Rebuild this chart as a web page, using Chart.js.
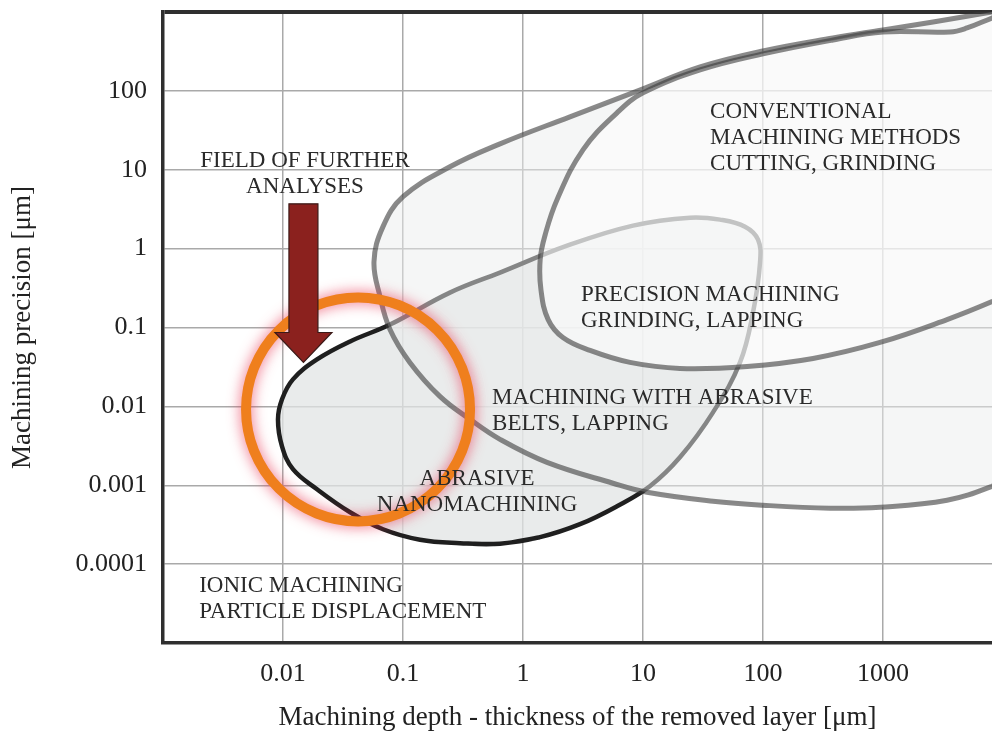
<!DOCTYPE html>
<html>
<head>
<meta charset="utf-8">
<script src="https://cdn.jsdelivr.net/npm/chart.js@4.4.0/dist/chart.umd.min.js"></script>
<style>
  html, body { margin: 0; padding: 0; background: #fff; }
</style>
</head>
<body>
<canvas id="myChart" width="992" height="731"></canvas>
<script>
const FONT = '"Liberation Serif", "Times New Roman", serif';

// log axes, one tick per decade
const xTickValues = [0.001, 0.01, 0.1, 1, 10, 100, 1000];
const xTickLabels = ['', '0.01', '0.1', '1', '10', '100', '1000'];
const yTickValues = [0.00001, 0.0001, 0.001, 0.01, 0.1, 1, 10, 100, 1000];
const yTickLabels = ['', '0.0001', '0.001', '0.01', '0.1', '1', '10', '100', ''];

// abrasive nanomachining (black outline)
const nanoDepth = [0.643, 1.386, 2.985, 6.07, 11.4, 20.3, 38.3, 64.3, 82.5, 94.4, 90.9, 70.8, 43.8, 24.6, 8.25, 2.33, 0.643, 0.246, 0.0779, 0.0362, 0.0192, 0.0121, 0.00981, 0.00908, 0.00981, 0.0121, 0.0192, 0.0362, 0.0681, 0.1386, 0.2985, 0.643];
const nanoPrec = [0.0001817, 0.0002197, 0.0003209, 0.000542, 0.000971, 0.00226, 0.00840, 0.0361, 0.155, 0.665, 1.30, 1.90, 2.33, 2.47, 1.96, 1.09, 0.497, 0.277, 0.109, 0.0665, 0.0394, 0.0220, 0.0123, 0.00684, 0.00312, 0.00160, 0.000890, 0.000455, 0.000277, 0.000204, 0.0001845, 0.0001817];

// machining with abrasive belts, lapping
const beltDepth = [20340, 43850, 29850, 8091, 2610, 1000, 383, 100, 29.9, 10, 2.46, 0.643, 0.246, 0.1, 0.0681, 0.0573, 0.0643, 0.0779, 0.114, 0.203, 0.362, 0.643, 1.585, 5.62, 10.8, 38.3, 100, 362, 944, 3415, 8091, 20340];
const beltPrec = [0.00184, 0.226, 1419, 1000, 747, 592, 469, 321, 201, 106, 46.9, 21.3, 10.9, 4.55, 1.90, 0.684, 0.247, 0.0944, 0.0361, 0.0134, 0.00684, 0.00382, 0.00195, 0.00106, 0.000815, 0.000627, 0.000558, 0.000512, 0.000527, 0.000646, 0.000971, 0.00184];

// precision / conventional machining
const convDepth = [43850, 20340, 8091, 5012, 3616, 1000, 383, 100, 29.9, 10, 6.07, 3.16, 1.92, 1.53, 1.39, 1.41, 1.62, 2.15, 3.62, 7.79, 20.3, 73.6, 261, 944, 3415, 8091, 20340, 43850];
const convPrec = [17.9, 1419, 839, 627, 558, 558, 442, 294, 184, 94.4, 52.7, 17.9, 4.17, 1.50, 0.726, 0.303, 0.126, 0.0747, 0.0512, 0.0361, 0.0303, 0.0321, 0.0405, 0.0646, 0.126, 0.213, 0.405, 17.9];

// field of further analyses (ring centre)
const ringDepth = 0.0422;
const ringPrec = 0.00916;

// arrow: centre depth, top, neck, tip
const arrowDepth = 0.0148;
const arrowPrec = [3.7, 0.0864, 0.036];

// region captions
const noteText = [
  ['FIELD OF FURTHER', 'ANALYSES'],
  ['CONVENTIONAL', 'MACHINING METHODS', 'CUTTING, GRINDING'],
  ['PRECISION MACHINING', 'GRINDING, LAPPING'],
  ['MACHINING WITH ABRASIVE', 'BELTS, LAPPING'],
  ['ABRASIVE', 'NANOMACHINING'],
  ['IONIC MACHINING', 'PARTICLE DISPLACEMENT']
];
const noteDepth = [0.01525, 36.2, 3.04, 0.552, 0.414, 0.002];
const notePrec = [13.4, 55.8, 0.273, 0.0134, 0.001245, 0.0000558];
const noteAlign = ['center', 'left', 'left', 'left', 'center', 'left'];

// closed outline: repeat one point on each side so the spline has no kink where it closes
const loop = (xs, ys) => {
  const p = xs.map((x, i) => ({x: x, y: ys[i]}));
  return [p[p.length - 2]].concat(p, [p[1]]);
};

const shape = (data, fillColor, lineColor, width) => ({
  data: data,
  showLine: true,
  fill: 'shape',
  backgroundColor: fillColor,
  borderColor: lineColor,
  borderWidth: width,
  tension: 0.4,
  pointRadius: 0
});

const notes = {
  id: 'notes',
  afterDatasetsDraw(chart) {
    const ctx = chart.ctx;
    const xs = chart.scales.x, ys = chart.scales.y;

    // orange ring with a reddish glow
    ctx.save();
    ctx.beginPath();
    ctx.arc(xs.getPixelForValue(ringDepth), ys.getPixelForValue(ringPrec), 112, 0, Math.PI * 2);
    ctx.shadowColor = 'rgba(232, 50, 80, 0.75)';
    ctx.shadowBlur = 14;
    ctx.lineWidth = 10;
    ctx.strokeStyle = '#ef7f1d';
    ctx.stroke();
    ctx.restore();

    // arrow
    const ax = xs.getPixelForValue(arrowDepth);
    const top = ys.getPixelForValue(arrowPrec[0]);
    const neck = ys.getPixelForValue(arrowPrec[1]);
    const tip = ys.getPixelForValue(arrowPrec[2]);
    ctx.save();
    ctx.beginPath();
    ctx.moveTo(ax - 14.5, top);
    ctx.lineTo(ax + 14.5, top);
    ctx.lineTo(ax + 14.5, neck);
    ctx.lineTo(ax + 28.5, neck);
    ctx.lineTo(ax, tip);
    ctx.lineTo(ax - 28.5, neck);
    ctx.lineTo(ax - 14.5, neck);
    ctx.closePath();
    ctx.fillStyle = '#8b211e';
    ctx.fill();
    ctx.lineWidth = 1.2;
    ctx.strokeStyle = '#3b1a18';
    ctx.stroke();

    // captions
    const size = 23;
    ctx.font = size + 'px ' + FONT;
    ctx.fillStyle = '#2a2a2a';
    ctx.textBaseline = 'alphabetic';
    noteText.forEach((lines, i) => {
      const px = xs.getPixelForValue(noteDepth[i]);
      const py = ys.getPixelForValue(notePrec[i]);
      ctx.textAlign = noteAlign[i];
      lines.forEach((t, j) => ctx.fillText(t, px, py + j * 26 + size * 0.33));
    });
    ctx.restore();
  }
};

const config = {
  type: 'scatter',
  data: {
    datasets: [
      shape(loop(convDepth, convPrec), 'rgba(255,255,255,0.5)', 'rgba(60,60,60,0.6)', 5),
      shape(loop(beltDepth, beltPrec), 'rgba(235,237,237,0.5)', 'rgba(60,60,60,0.6)', 5),
      shape(loop(nanoDepth, nanoPrec), 'rgba(225,228,228,0.75)', '#1f1f1f', 4.5)
    ]
  },
  options: {
    responsive: false,
    animation: false,
    events: [],
    layout: { padding: { top: 12, right: 0, left: 0, bottom: 0 } },
    elements: { line: { capBezierPoints: false } },
    plugins: {
      legend: { display: false },
      tooltip: { enabled: false }
    },
    scales: {
      x: {
        type: 'logarithmic',
        min: 0.001,
        max: 8091,
        afterBuildTicks: s => { s.ticks = xTickValues.map(v => ({value: v})); },
        afterFit: s => { s.height = 88; s.paddingLeft = 0; s.paddingRight = 0; },
        ticks: {
          autoSkip: false,
          maxRotation: 0,
          padding: 16,
          color: '#222',
          font: { family: FONT, size: 26 },
          callback: (v, i) => xTickLabels[i]
        },
        grid: { color: '#a9a9a9', lineWidth: 1.5, drawTicks: false },
        border: { color: '#2f2f2f', width: 3.5 },
        title: {
          display: true,
          text: 'Machining depth - thickness of the removed layer [μm]',
          color: '#222',
          font: { family: FONT, size: 27, lineHeight: 1 },
          padding: { top: 0, bottom: 0 }
        }
      },
      y: {
        type: 'logarithmic',
        min: 0.00001,
        max: 1000,
        afterBuildTicks: s => { s.ticks = yTickValues.map(v => ({value: v})); },
        afterFit: s => { s.width = 163; s.paddingTop = 0; s.paddingBottom = 0; },
        ticks: {
          autoSkip: false,
          padding: 16,
          color: '#222',
          font: { family: FONT, size: 26 },
          callback: (v, i) => yTickLabels[i]
        },
        grid: {
          color: c => (c.tick && c.tick.value === 1000 ? '#2f2f2f' : '#a9a9a9'),
          lineWidth: c => (c.tick && c.tick.value === 1000 ? 4 : 1.5),
          drawTicks: false
        },
        border: { color: '#2f2f2f', width: 3.5 },
        title: {
          display: true,
          text: 'Machining precision [μm]',
          color: '#222',
          font: { family: FONT, size: 27, lineHeight: 1 },
          padding: { top: 9, bottom: 0 }
        }
      }
    }
  },
  plugins: [notes]
};

const myChart = new Chart(document.getElementById('myChart'), config);
</script>
</body>
</html>
